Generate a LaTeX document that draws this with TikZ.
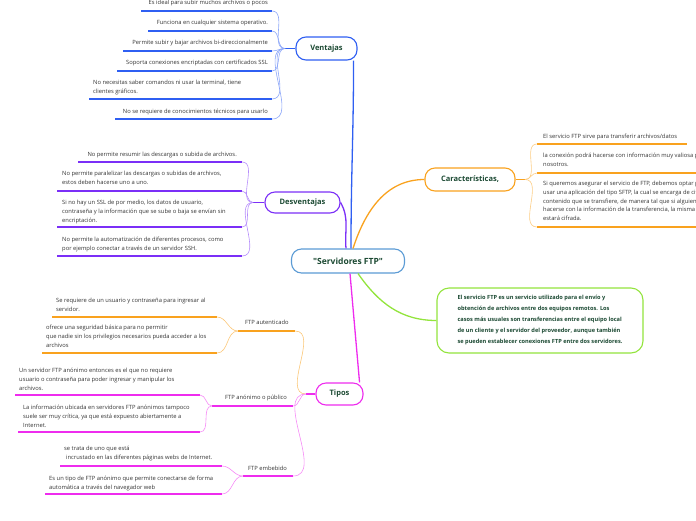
\documentclass[tikz,border=0pt]{standalone}
\usepackage{fontspec}
\setmainfont{Open Sans}
\newfontfamily\plainfont{Open Sans}
\definecolor{vblue}{HTML}{2F5FF2}
\definecolor{dpurple}{HTML}{7B2FF7}
\definecolor{corange}{HTML}{F9A21E}
\definecolor{ggreen}{HTML}{93E43D}
\definecolor{tmag}{HTML}{EE2CEE}
\definecolor{rootblue}{HTML}{5B9BD5}
\definecolor{nodetxt}{HTML}{1C4A33}
\definecolor{leaftxt}{HTML}{333333}
\begin{document}
\begin{tikzpicture}[x=1pt,y=-1pt,
  leaf/.style={inner sep=0pt, align=left, text=leaftxt, font=\fontsize{5.8}{8.7}\selectfont},
  mainbox/.style={draw, rounded corners=10pt, line width=1.1pt, fill=white, text=nodetxt,
    font=\bfseries\fontsize{7.5}{9}\selectfont, inner sep=0pt, minimum height=22pt},
  mainline/.style={line width=1.3pt},
  ul/.style={line width=1.3pt},
  fan/.style={line width=0.6pt},
]
\useasboundingbox (0,0) rectangle (696,520);

% ---------- main nodes ----------
\node[mainbox, draw=rootblue, minimum width=113pt, minimum height=24pt,
  font=\plainfont\bfseries\fontsize{8.5}{10}\selectfont] (root) at (348,261) {"Servidores FTP"};
\node[mainbox, draw=vblue, minimum width=61pt, minimum height=23pt] (ventajas) at (326.5,48.5) {Ventajas};
\node[mainbox, draw=dpurple, minimum width=75pt, minimum height=21pt] (desv) at (302.5,202.5) {Desventajas};
\node[mainbox, draw=corange, minimum width=90pt, minimum height=23pt] (car) at (470,179.5) {Características,};
\node[mainbox, draw=tmag, minimum width=47pt, minimum height=22pt] (tipos) at (339.5,394) {Tipos};
\node[draw=ggreen, rounded corners=12pt, line width=1.1pt, fill=white, minimum width=206pt,
  minimum height=65pt, inner sep=0pt, align=left, text=nodetxt,
  font=\bfseries\fontsize{5.65}{11}\selectfont] (green) at (540,320.5)
  {El servicio FTP es un servicio utilizado para el envío y\\
   obtención de archivos entre dos equipos remotos. Los\\
   casos más usuales son transferencias entre el equipo local\\
   de un cliente y el servidor del proveedor, aunque también\\
   se pueden establecer conexiones FTP entre dos servidores.};

% ---------- main connectors ----------
\draw[mainline, vblue] ([xshift=3pt]root.north) to[out=90,in=-90] ([xshift=-4pt]ventajas.south east);
\draw[mainline, dpurple] ([xshift=-2pt]root.north) to[out=95,in=-60] (desv.east);
\draw[mainline, corange] ([xshift=5pt]root.north) to[out=72,in=180] (car.west);
\draw[mainline, ggreen] ([xshift=10pt]root.south) to[out=-55,in=180] (green.west);
\draw[mainline, tmag] ([xshift=2pt]root.south) to[out=-85,in=95] ([xshift=-4pt]tipos.north east);

% ---------- Ventajas ----------
\coordinate (vf) at (285,48.5);
\draw[ul, vblue] (ventajas.west) -- (vf);
\node[leaf, anchor=north east] (v1) at (268,0) {Es ideal para subir muchos archivos o pocos};
\node[leaf, anchor=north east] (v2) at (268,20) {Funciona en cualquier sistema operativo.};
\node[leaf, anchor=north east] (v3) at (268,40) {Permite subir y bajar archivos bi-direccionalmente};
\node[leaf, anchor=north east] (v4) at (268,60) {Soporta conexiones encriptadas con certificados SSL};
\node[leaf, anchor=north west] (v5) at (93,80) {No necesitas saber comandos ni usar la terminal, tiene\\clientes gráficos.};
\node[leaf, anchor=north east] (v6) at (268,109) {No se requiere de conocimientos técnicos para usarlo};
\coordinate (v1a) at (141,11);  \coordinate (v1b) at (272,11);
\coordinate (v2a) at (148,31);  \coordinate (v2b) at (272,31);
\coordinate (v3a) at (123,51);  \coordinate (v3b) at (272,51);
\coordinate (v4a) at (117,71);  \coordinate (v4b) at (272,71);
\coordinate (v5a) at (89,99);   \coordinate (v5b) at (272,99);
\coordinate (v6a) at (115,119); \coordinate (v6b) at (272,119);
\foreach \i in {1,...,6}{
  \draw[ul, vblue] (v\i a) -- (v\i b);
  \draw[fan, vblue!55] (vf) to[out=180,in=0] (v\i b);
}

% ---------- Desventajas ----------
\coordinate (df) at (253,202.5);
\draw[ul, dpurple] (desv.west) -- (df);
\node[leaf, anchor=north east] (d1) at (237,152) {No permite resumir las descargas o subida de archivos.};
\node[leaf, anchor=north west] (d2) at (62,171) {No permite paralelizar las descargas o subidas de archivos,\\estos deben hacerse uno a uno.};
\node[leaf, anchor=north west] (d3) at (62,200) {Si no hay un SSL de por medio, los datos de usuario,\\contraseña y la información que se sube o baja se envían sin\\encriptación.};
\node[leaf, anchor=north west] (d4) at (62,237) {No permite la automatización de diferentes procesos, como\\por ejemplo conectar a través de un servidor SSH.};
\coordinate (d1a) at (78,162);  \coordinate (d1b) at (242,162);
\coordinate (d2a) at (57,191);  \coordinate (d2b) at (242,191);
\coordinate (d3a) at (57,227);  \coordinate (d3b) at (242,227);
\coordinate (d4a) at (57,256);  \coordinate (d4b) at (242,256);
\foreach \i in {1,...,4}{
  \draw[ul, dpurple] (d\i a) -- (d\i b);
  \draw[fan, dpurple!55] (df) to[out=180,in=0] (d\i b);
}

% ---------- Caracteristicas ----------
\coordinate (cf) at (525,179.5);
\draw[ul, corange] (car.east) -- (cf);
\node[leaf, anchor=north west] (c1) at (543,134) {El servicio FTP sirve para transferir archivos/datos};
\node[leaf, anchor=north west] (c2) at (543,153) {la conexión podrá hacerse con información muy valiosa para\\nosotros.};
\node[leaf, anchor=north west] (c3) at (543,181) {Si queremos asegurar el servicio de FTP, debemos optar por\\usar una aplicación del tipo SFTP, la cual se encarga de cifrar el\\contenido que se transfiere, de manera tal que si alguien intenta\\hacerse con la información de la transferencia, la misma\\estará cifrada.};
\coordinate (c1a) at (537,144); \coordinate (c1b) at (687,144);
\coordinate (c2a) at (537,173); \coordinate (c2b) at (700,173);
\coordinate (c3a) at (537,227); \coordinate (c3b) at (700,227);
\foreach \i in {1,2,3}{
  \draw[ul, corange] (c\i a) -- (c\i b);
  \draw[fan, corange!55] (cf) to[out=0,in=180] (c\i a);
}

% ---------- Tipos ----------
\coordinate (tf) at (306,394);
\draw[ul, tmag] (tipos.west) -- (tf);
\node[leaf, anchor=north west] (t1) at (245,320) {FTP autenticado};
\node[leaf, anchor=north west] (t2) at (225,395) {FTP anónimo o público};
\node[leaf, anchor=north west] (t3) at (248,466) {FTP embebido};
\coordinate (t1a) at (238,331); \coordinate (t1b) at (295,331);
\coordinate (t2a) at (212,406); \coordinate (t2b) at (293,406);
\coordinate (t3a) at (243,476); \coordinate (t3b) at (293,476);
\draw[ul, corange] (t1a) -- (t1b);
\draw[ul, tmag] (t2a) -- (t2b);
\draw[ul, tmag] (t3a) -- (t3b);
\draw[fan, corange!60] (tf) to[out=180,in=0] (t1b);
\draw[fan, tmag!55] (tf) to[out=180,in=0] (t2b);
\draw[fan, tmag!55] (tf) to[out=180,in=0] (t3b);

% FTP autenticado
\node[leaf, anchor=north west] (a1) at (56,298) {Se requiere de un usuario y contraseña para ingresar al\\servidor.};
\node[leaf, anchor=north west] (a2) at (46,325) {ofrece una seguridad básica para no permitir\\que nadie sin los privilegios necesarios pueda acceder a los\\archivos};
\coordinate (a1a) at (52,317); \coordinate (a1b) at (217,317);
\coordinate (a2a) at (42,353); \coordinate (a2b) at (217,353);
\foreach \i in {1,2}{
  \draw[ul, corange] (a\i a) -- (a\i b);
  \draw[fan, corange!60] (t1a) to[out=180,in=0] (a\i b);
}

% FTP anonimo
\node[leaf, anchor=north west] (p1) at (19,368) {Un servidor FTP anónimo entonces es el que no requiere\\usuario o contraseña para poder ingresar y manipular los\\archivos.};
\node[leaf, anchor=north west] (p2) at (23,405) {La información ubicada en servidores FTP anónimos tampoco\\suele ser muy crítica, ya que está expuesto abiertamente a\\Internet.};
\coordinate (p1a) at (15,395); \coordinate (p1b) at (200,395);
\coordinate (p2a) at (18,432); \coordinate (p2b) at (200,432);
\foreach \i in {1,2}{
  \draw[ul, tmag] (p\i a) -- (p\i b);
  \draw[fan, tmag!55] (t2a) to[out=180,in=0] (p\i b);
}

% FTP embebido
\node[leaf, anchor=north west] (e1) at (64,446) {se trata de uno que está\\\hspace*{2pt}incrustado en las diferentes páginas webs de Internet.};
\node[leaf, anchor=north west] (e2) at (49,476) {Es un tipo de FTP anónimo que permite conectarse de forma\\automática a través del navegador web};
\coordinate (e1a) at (60,466); \coordinate (e1b) at (222,466);
\coordinate (e2a) at (45,494); \coordinate (e2b) at (222,494);
\foreach \i in {1,2}{
  \draw[ul, tmag] (e\i a) -- (e\i b);
  \draw[fan, tmag!55] (t3a) to[out=180,in=0] (e\i b);
}
\end{tikzpicture}
\end{document}
